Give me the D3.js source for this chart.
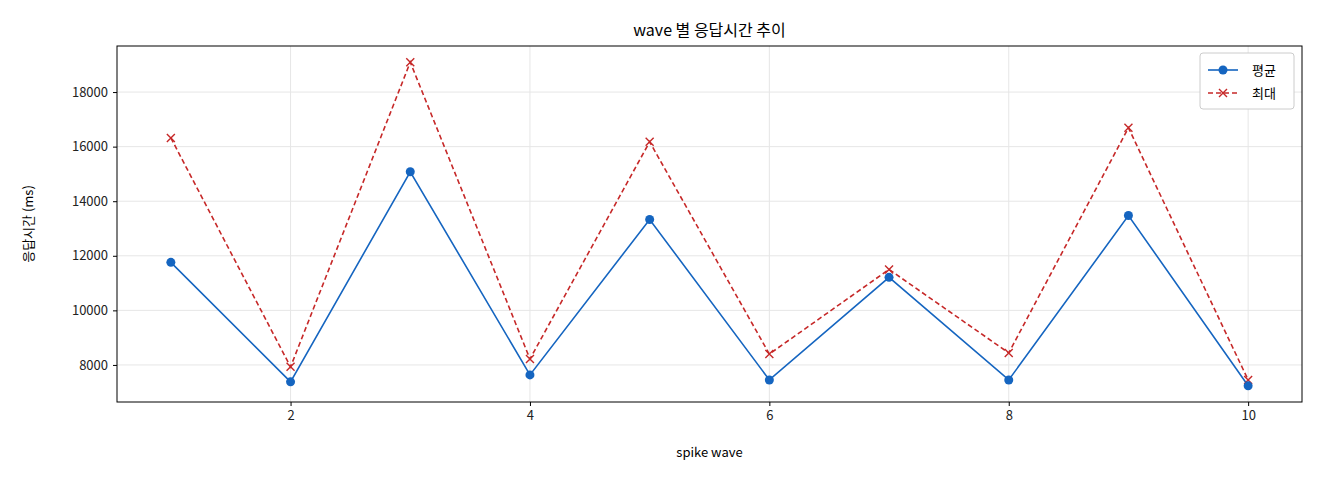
<!DOCTYPE html>
<html><head><meta charset="utf-8">
<script src="https://cdn.jsdelivr.net/npm/d3@7"></script>
<style>body{margin:0;background:#fff}text{font-family:"Noto Sans CJK KR","DejaVu Sans",sans-serif}</style>
</head><body><svg id="c" width="1320" height="480"></svg>
<script>
const waves = [1,2,3,4,5,6,7,8,9,10];
const avgMs = [11760,7380,15080,7635,13330,7450,11210,7450,13475,7235];
const maxMs = [16320,7930,19095,8220,16175,8400,11500,8440,16690,7450];
const xTicks = [2,4,6,8,10];
const yTicks = [8000,10000,12000,14000,16000,18000];

const svg = d3.select("#c");
const m = {top:46,right:18,bottom:78,left:117};
const W = 1320-m.left-m.right, H = 480-m.top-m.bottom;
const g = svg.append("g").attr("transform",`translate(${m.left},${m.top})`);
const x = d3.scaleLinear().domain([0.55,10.45]).range([0,W]);
const lo = d3.min(avgMs.concat(maxMs)), hi = d3.max(avgMs.concat(maxMs)), pad=(hi-lo)*0.05;
const y = d3.scaleLinear().domain([lo-pad,hi+pad]).range([H,0]);

g.append("g").selectAll("line").data(xTicks).join("line")
  .attr("x1",d=>x(d)).attr("x2",d=>x(d)).attr("y1",0).attr("y2",H).attr("stroke","#e6e6e6");
g.append("g").selectAll("line").data(yTicks).join("line")
  .attr("y1",d=>y(d)).attr("y2",d=>y(d)).attr("x1",0).attr("x2",W).attr("stroke","#e6e6e6");

const ax = g.append("g").attr("transform",`translate(0,${H})`).call(d3.axisBottom(x).tickValues(xTicks).tickSize(4).tickPadding(5));
const ay = g.append("g").call(d3.axisLeft(y).tickValues(yTicks).tickFormat(d3.format("d")).tickSize(4).tickPadding(5));
[ax,ay].forEach(a=>{a.select(".domain").remove();a.selectAll("text").attr("font-size",13).attr("fill","#222").style("font-family","'Noto Sans CJK KR'");});
g.append("rect").attr("width",W).attr("height",H).attr("fill","none").attr("stroke","#000");

const data = waves.map((w,i)=>({w,a:avgMs[i],m:maxMs[i]}));
g.append("path").datum(data).attr("fill","none").attr("stroke","#c62828").attr("stroke-width",1.6)
  .attr("stroke-dasharray","5,3").attr("d",d3.line().x(d=>x(d.w)).y(d=>y(d.m)));
g.append("path").datum(data).attr("fill","none").attr("stroke","#1565c0").attr("stroke-width",1.6)
  .attr("d",d3.line().x(d=>x(d.w)).y(d=>y(d.a)));
const cross = (sel,cx,cy)=>sel.append("path").attr("d",`M${cx-4},${cy-4}L${cx+4},${cy+4}M${cx-4},${cy+4}L${cx+4},${cy-4}`).attr("stroke","#c62828").attr("stroke-width",1.4);
data.forEach(d=>cross(g,x(d.w),y(d.m)));
g.selectAll("circle").data(data).join("circle").attr("cx",d=>x(d.w)).attr("cy",d=>y(d.a)).attr("r",4.5).attr("fill","#1565c0");

// legend
const lg = g.append("g").attr("transform",`translate(${W-102},7)`);
lg.append("rect").attr("width",94).attr("height",56).attr("rx",3).attr("fill","#fff").attr("stroke","#ccc");
lg.append("line").attr("x1",8).attr("x2",38).attr("y1",17).attr("y2",17).attr("stroke","#1565c0").attr("stroke-width",1.6);
lg.append("circle").attr("cx",23).attr("cy",17).attr("r",4.5).attr("fill","#1565c0");
lg.append("line").attr("x1",8).attr("x2",38).attr("y1",40).attr("y2",40).attr("stroke","#c62828").attr("stroke-width",1.6).attr("stroke-dasharray","5,3");
cross(lg,23,40);
lg.append("text").attr("x",52).attr("y",22).attr("font-size",13).text("평균");
lg.append("text").attr("x",52).attr("y",45).attr("font-size",13).text("최대");

svg.append("text").attr("x",m.left+W/2).attr("y",36).attr("text-anchor","middle").attr("font-size",16).text("wave 별 응답시간 추이");
svg.append("text").attr("x",m.left+W/2).attr("y",457).attr("text-anchor","middle").attr("font-size",13).text("spike wave");
svg.append("text").attr("transform",`translate(33,${m.top+H/2}) rotate(-90)`).attr("text-anchor","middle").attr("font-size",13).text("응답시간 (ms)");
</script></body></html>
